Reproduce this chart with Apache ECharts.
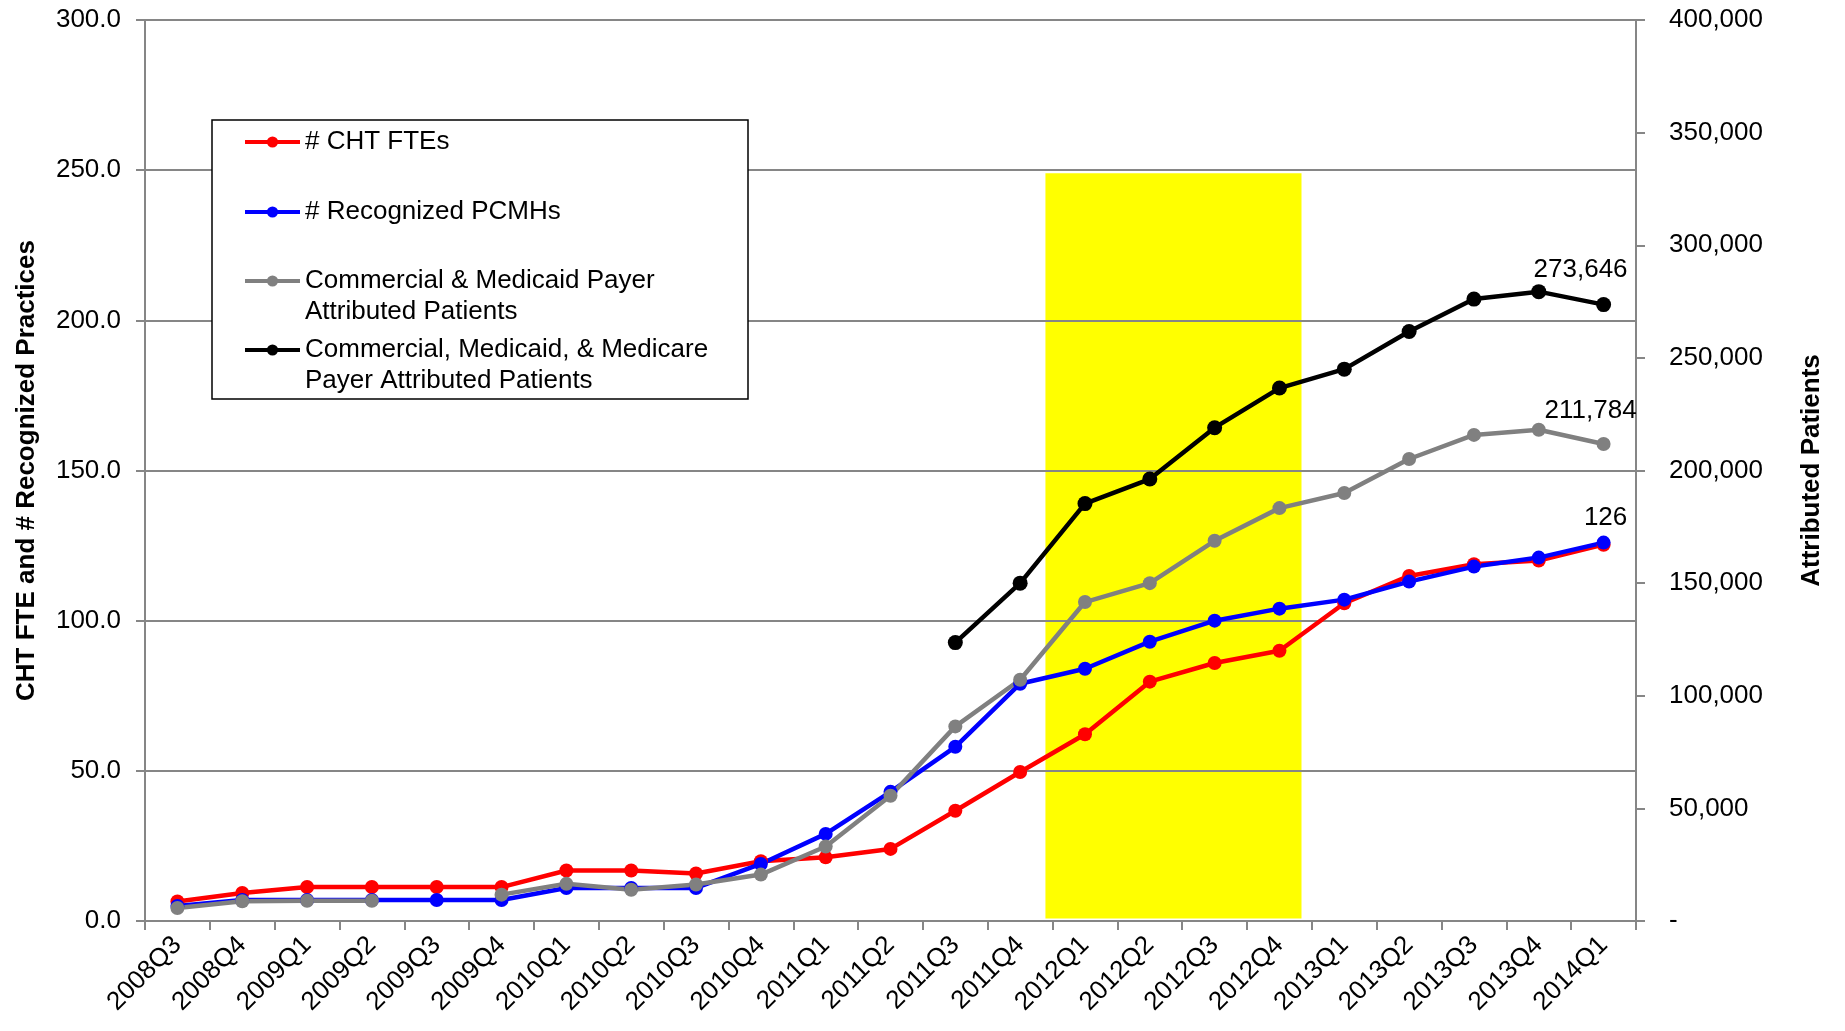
<!DOCTYPE html>
<html>
<head>
<meta charset="utf-8">
<script src="https://cdn.jsdelivr.net/npm/echarts@6/dist/echarts.min.js"></script>
<style>
  html, body { margin: 0; padding: 0; background: #ffffff; }
  #chart { width: 1845px; height: 1031px; }
</style>
</head>
<body>
<div id="chart"></div>
<script>
// Quarterly figures, 2008Q3 - 2014Q1
const quarters = [
  '2008Q3', '2008Q4', '2009Q1', '2009Q2', '2009Q3', '2009Q4',
  '2010Q1', '2010Q2', '2010Q3', '2010Q4', '2011Q1', '2011Q2',
  '2011Q3', '2011Q4', '2012Q1', '2012Q2', '2012Q3', '2012Q4',
  '2013Q1', '2013Q2', '2013Q3', '2013Q4', '2014Q1'
];

// Left axis: FTEs and recognized practices
const chtFtes = [
  6.5, 9.3, 11.3, 11.3, 11.3, 11.3,
  16.8, 16.8, 15.8, 19.9, 21.2, 24.0,
  36.7, 49.6, 62.2, 79.7, 85.9, 90.0,
  105.8, 114.9, 118.8, 120.0, 125.3
];
const recognizedPcmhs = [
  5, 7, 7, 7, 7, 7,
  11, 11, 11, 19, 29, 43,
  58, 79, 84, 93, 100, 104,
  107, 113, 118, 121, 126
];

// Right axis: attributed patients
const commMedicaidPatients = [
  5800, 8800, 9000, 9000, null, 11700,
  16500, 13900, 16200, 20600, 33100, 55600,
  86400, 107100, 141600, 150000, 168800, 183300,
  190000, 205100, 215800, 218100, 211784
];
const allPayerPatients = [
  null, null, null, null, null, null,
  null, null, null, null, null, null,
  123600, 150000, 185300, 196200, 219000, 236600,
  245000, 261700, 276100, 279400, 273646
];

// Axis scales
const leftAxisScale = { min: 0, max: 300, interval: 50 };
const rightAxisScale = { min: 0, max: 400000, interval: 50000 };

// Highlighted period, in quarter units from the start of the axis and left-axis units
const highlightQuarterSpan = [13.89, 17.84];
const highlightValueSpan = [0.8, 249];

const FONT = '"Liberation Sans", Arial, Helvetica, sans-serif';
const AXIS_GRAY = '#868686';

const seriesDefs = [
  { name: '# CHT FTEs', legendText: '\n# CHT FTEs\n', color: '#ff0000', data: chtFtes, yAxisIndex: 0, legendY: 142 },
  { name: '# Recognized PCMHs', legendText: '\n# Recognized PCMHs\n', color: '#0000ff', data: recognizedPcmhs, yAxisIndex: 0, legendY: 212, endLabelOffset: [2, 0] },
  { name: 'Commercial & Medicaid Payer Attributed Patients', legendText: '\nCommercial & Medicaid Payer\nAttributed Patients', color: '#808080', data: commMedicaidPatients, yAxisIndex: 1, legendY: 281, endLabelOffset: [-13, -8] },
  { name: 'Commercial, Medicaid, & Medicare Payer Attributed Patients', legendText: '\nCommercial, Medicaid, & Medicare\nPayer Attributed Patients', color: '#000000', data: allPayerPatients, yAxisIndex: 1, legendY: 350, endLabelOffset: [-23, -9], symbolSize: 15 }
];

// Label the final quarter of a series with its value
function withEndLabel(values, offset) {
  if (!offset) return values.slice();
  return values.map((v, i) => i === values.length - 1 ? {
    value: v,
    label: {
      show: true,
      position: 'top',
      distance: 5,
      offset: offset,
      fontSize: 26,
      fontFamily: FONT,
      color: '#000000',
      formatter: p => Number(p.value).toLocaleString('en-US')
    }
  } : v);
}

const lineSeries = seriesDefs.map(d => ({
  type: 'line',
  name: d.name,
  xAxisIndex: 0,
  yAxisIndex: d.yAxisIndex,
  data: withEndLabel(d.data, d.endLabelOffset),
  symbol: 'circle',
  symbolSize: d.symbolSize || 14,
  showSymbol: true,
  connectNulls: false,
  color: d.color,
  lineStyle: { color: d.color, width: 4.5 },
  itemStyle: { color: d.color },
  emphasis: { disabled: true }
}));

// Highlighted period drawn behind the gridlines
const highlightSeries = {
  type: 'line',
  name: 'highlight',
  xAxisIndex: 1,
  yAxisIndex: 0,
  data: [],
  silent: true,
  symbol: 'none',
  markArea: {
    silent: true,
    z: -1,
    itemStyle: { color: '#ffff00', opacity: 1 },
    data: [[
      { coord: [highlightQuarterSpan[0], highlightValueSpan[0]] },
      { coord: [highlightQuarterSpan[1], highlightValueSpan[1]] }
    ]]
  }
};

const legends = seriesDefs.map(d => ({
  data: [d.name],
  left: 243,
  top: d.legendY - 46.5,
  orient: 'horizontal',
  padding: 0,
  itemGap: 0,
  itemWidth: 55,
  itemHeight: 14,
  selectedMode: false,
  z: 6,
  lineStyle: { width: 4 },
  formatter: () => d.legendText,
  textStyle: { fontSize: 26, lineHeight: 31, color: '#000000', fontFamily: FONT }
}));

const chart = echarts.init(document.getElementById('chart'), null, { renderer: 'canvas' });

chart.setOption({
  animation: false,
  backgroundColor: '#ffffff',
  textStyle: { fontFamily: FONT },
  grid: { left: 145, right: 209, top: 20, bottom: 110, containLabel: false },
  legend: legends,
  graphic: {
    elements: [{
      type: 'rect',
      z: 5,
      shape: { x: 212, y: 120, width: 536, height: 279 },
      style: { fill: '#ffffff', stroke: '#000000', lineWidth: 1.5 }
    }]
  },
  xAxis: [
    {
      type: 'category',
      data: quarters,
      boundaryGap: true,
      axisLine: { show: true, lineStyle: { color: AXIS_GRAY, width: 2 } },
      axisTick: { show: true, inside: false, length: 9, lineStyle: { color: AXIS_GRAY, width: 2 } },
      axisLabel: { interval: 0, rotate: 45, margin: 20, fontSize: 26, color: '#000000', fontFamily: FONT },
      splitLine: { show: false }
    },
    {
      type: 'value',
      show: false,
      min: 0,
      max: quarters.length
    }
  ],
  yAxis: [
    {
      type: 'value',
      position: 'left',
      min: leftAxisScale.min,
      max: leftAxisScale.max,
      interval: leftAxisScale.interval,
      name: 'CHT FTE and # Recognized Practices',
      nameLocation: 'middle',
      nameGap: 105,
      nameTextStyle: { fontSize: 26, fontWeight: 'bold', color: '#000000', fontFamily: FONT },
      axisLine: { show: true, lineStyle: { color: AXIS_GRAY, width: 2 } },
      axisTick: { show: true, inside: false, length: 9, lineStyle: { color: AXIS_GRAY, width: 2 } },
      axisLabel: { margin: 24, fontSize: 26, color: '#000000', fontFamily: FONT, formatter: v => v.toFixed(1) },
      splitLine: { show: true, lineStyle: { color: AXIS_GRAY, width: 2 } }
    },
    {
      type: 'value',
      position: 'right',
      min: rightAxisScale.min,
      max: rightAxisScale.max,
      interval: rightAxisScale.interval,
      name: 'Attributed Patients',
      nameLocation: 'middle',
      nameRotate: 90,
      nameGap: 163,
      nameTextStyle: { fontSize: 26, fontWeight: 'bold', color: '#000000', fontFamily: FONT },
      axisLine: { show: true, lineStyle: { color: AXIS_GRAY, width: 2 } },
      axisTick: { show: true, inside: false, length: 9, lineStyle: { color: AXIS_GRAY, width: 2 } },
      axisLabel: {
        margin: 33, fontSize: 26, color: '#000000', fontFamily: FONT,
        formatter: v => v === 0 ? '-' : v.toLocaleString('en-US')
      },
      splitLine: { show: false }
    }
  ],
  series: [highlightSeries].concat(lineSeries)
});
</script>
</body>
</html>
